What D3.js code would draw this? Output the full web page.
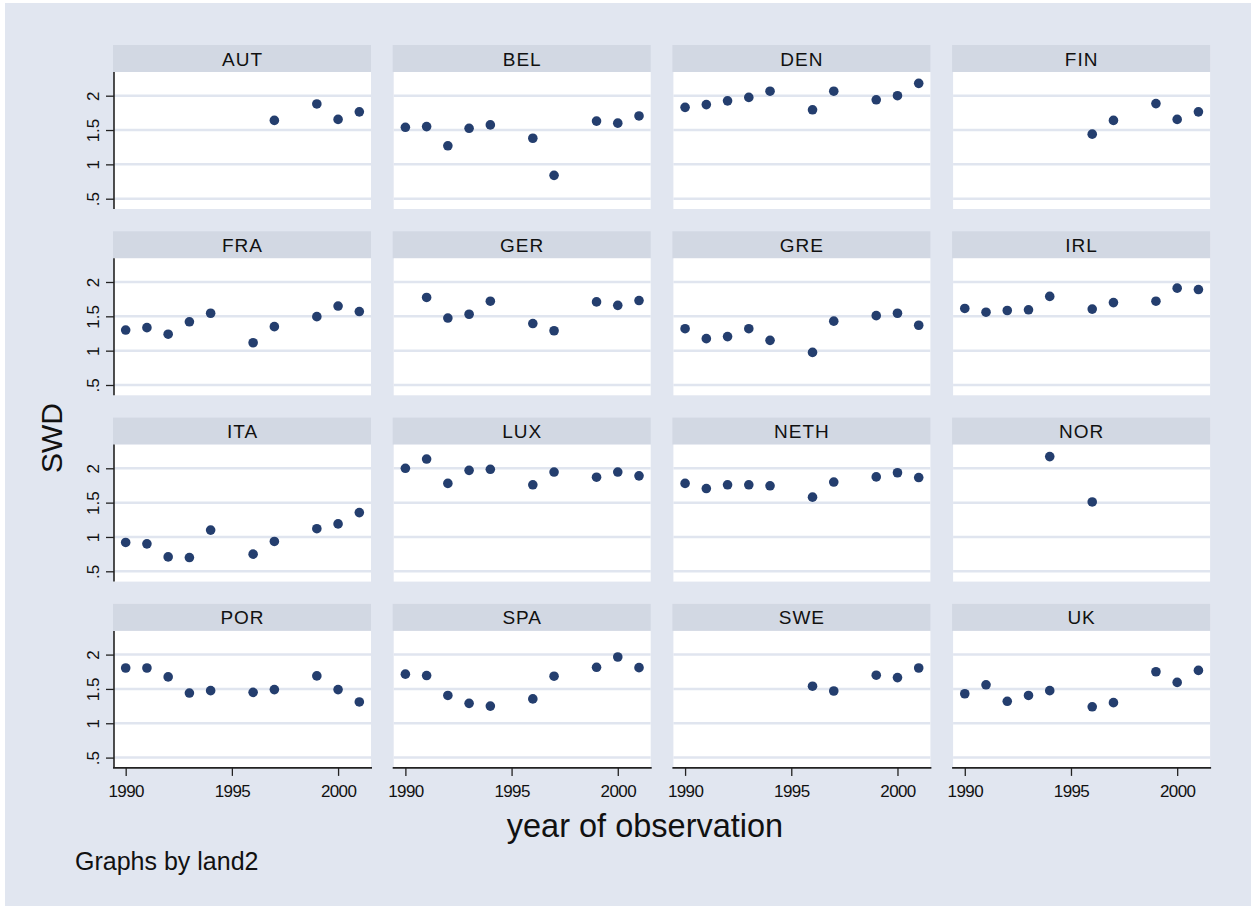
<!DOCTYPE html>
<html><head><meta charset="utf-8">
<script src="https://cdn.jsdelivr.net/npm/d3@7"></script>
<style>html,body{margin:0;padding:0;background:#fff;}svg{display:block;font-family:"Liberation Sans",Arial,Helvetica,sans-serif;}</style>
</head><body>
<svg id="c" width="1256" height="909"></svg>
<script>
const years = [1990,1991,1992,1993,1994,1996,1997,1999,2000,2001];
const countries = ["AUT","BEL","DEN","FIN","FRA","GER","GRE","IRL","ITA","LUX","NETH","NOR","POR","SPA","SWE","UK"];
const AUT  = [null,null,null,null,null,null,1.64,1.88,1.655,1.765];
const BEL  = [1.54,1.55,1.27,1.525,1.575,1.38,0.84,1.63,1.60,1.705];
const DEN  = [1.83,1.87,1.925,1.975,2.065,1.795,2.065,1.94,2.00,2.18];
const FIN  = [null,null,null,null,null,1.44,1.64,1.885,1.655,1.765];
const FRA  = [1.30,1.335,1.24,1.42,1.545,1.115,1.35,1.495,1.65,1.57];
const GER  = [null,1.775,1.475,1.53,1.72,1.395,1.29,1.71,1.66,1.73];
const GRE  = [1.32,1.175,1.205,1.32,1.15,0.975,1.43,1.51,1.545,1.37];
const IRL  = [1.615,1.56,1.585,1.595,1.79,1.605,1.70,1.72,1.91,1.89];
const ITA  = [0.92,0.90,0.71,0.70,1.10,0.75,0.935,1.12,1.19,1.355];
const LUX  = [2.00,2.135,1.78,1.97,1.985,1.76,1.945,1.87,1.945,1.89];
const NETH = [1.78,1.705,1.76,1.76,1.745,1.58,1.80,1.875,1.935,1.865];
const NOR  = [null,null,null,null,2.17,1.51,null,null,null,null];
const POR  = [1.805,1.805,1.675,1.44,1.475,1.45,1.49,1.69,1.49,1.31];
const SPA  = [1.715,1.695,1.405,1.29,1.25,1.355,1.685,1.815,1.965,1.81];
const SWE  = [null,null,null,null,null,1.54,1.47,1.70,1.665,1.805];
const UK   = [1.43,1.56,1.32,1.405,1.475,1.24,1.30,1.75,1.595,1.77];
const series = {AUT,BEL,DEN,FIN,FRA,GER,GRE,IRL,ITA,LUX,NETH,NOR,POR,SPA,SWE,UK};
const yTicks = [0.5,1,1.5,2];
const yTickLabels = [".5","1","1.5","2"];
const xTicks = [1990,1995,2000];
const xTickLabels = ["1990","1995","2000"];
const yTitle = "SWD";
const xTitle = "year of observation";
const note = "Graphs by land2";

const svg = d3.select("#c");
const BG = "#e1e6f0", STRIP = "#d2d8e3", GRID = "#e0e5ef", MARK = "#243e6e", AX = "#222";

svg.append("rect").attr("x",5).attr("y",3).attr("width",1246).attr("height",903).attr("fill",BG);

const colLeft0 = 114, colStep = 279.7, pw = 257;
const stripTop0 = 45, rowStep = 186.3, stripH = 27, ph = 137;

countries.forEach((c,i) => {
  const col = i % 4, row = Math.floor(i/4);
  const left = colLeft0 + col*colStep;
  const sTop = stripTop0 + row*rowStep;
  const pTop = sTop + stripH;
  const x = d3.scaleLinear().domain([1989.45, 2001.55]).range([left, left+pw]);
  const y = d3.scaleLinear().domain([0.35, 2.345]).range([pTop+ph, pTop]);
  const g = svg.append("g");
  g.append("rect").attr("x",left-1).attr("y",sTop).attr("width",pw+1).attr("height",stripH).attr("fill",STRIP);
  g.append("text").attr("x",left+pw/2).attr("y",sTop+stripH/2+7).attr("text-anchor","middle")
    .attr("font-size",19).attr("fill","#111").attr("letter-spacing","1").text(c);
  g.append("rect").attr("x",left).attr("y",pTop).attr("width",pw).attr("height",ph).attr("fill","#fff");
  g.selectAll("line.grid").data(yTicks).enter().append("line")
    .attr("x1",left).attr("x2",left+pw).attr("y1",d=>y(d)).attr("y2",d=>y(d))
    .attr("stroke",GRID).attr("stroke-width",2.5);
  const pts = years.map((yr,k)=>({yr, v: series[c][k]})).filter(d=>d.v!==null);
  g.selectAll("circle").data(pts).enter().append("circle")
    .attr("cx",d=>x(d.yr)).attr("cy",d=>y(d.v)).attr("r",4.8).attr("fill",MARK);
  if (col === 0) {
    const ax = d3.axisLeft(y).tickValues(yTicks).tickSize(8).tickFormat((d,k)=>yTickLabels[k]);
    const ag = g.append("g").attr("transform",`translate(${left},0)`).call(ax);
    ag.select(".domain").attr("d",`M0,${pTop}V${pTop+ph}`).attr("stroke",AX).attr("stroke-width",1.6);
    ag.selectAll(".tick line").attr("stroke",AX).attr("stroke-width",1.3);
    ag.selectAll(".tick text").attr("font-size",17).attr("fill","#111").attr("font-family","Liberation Sans, Arial, sans-serif")
      .attr("x",null).attr("dy",null).attr("text-anchor","middle")
      .attr("transform","translate(-15,0) rotate(-90)").attr("y",0);
  }
  if (row === 3) {
    const ax = d3.axisBottom(x).tickValues(xTicks).tickSize(8).tickFormat((d,k)=>xTickLabels[k]);
    const ag = g.append("g").attr("transform",`translate(0,${pTop+ph})`).call(ax);
    ag.select(".domain").attr("d",`M${left-1},0H${left+pw+1}`).attr("stroke",AX).attr("stroke-width",1.6);
    ag.selectAll(".tick line").attr("stroke",AX).attr("stroke-width",1.3);
    ag.selectAll(".tick text").attr("font-size",17).attr("fill","#111").attr("font-family","Liberation Sans, Arial, sans-serif")
      .attr("dy",null).attr("y",29).attr("letter-spacing","-0.6");
  }
});

svg.append("text").attr("transform","translate(62,438) rotate(-90)").attr("text-anchor","middle")
  .attr("font-size",30).attr("fill","#111").text(yTitle);
svg.append("text").attr("x",645).attr("y",837).attr("text-anchor","middle")
  .attr("font-size",32.5).attr("fill","#111").text(xTitle);
svg.append("text").attr("x",75).attr("y",870).attr("font-size",25).attr("fill","#111").text(note);
</script>
</body></html>
